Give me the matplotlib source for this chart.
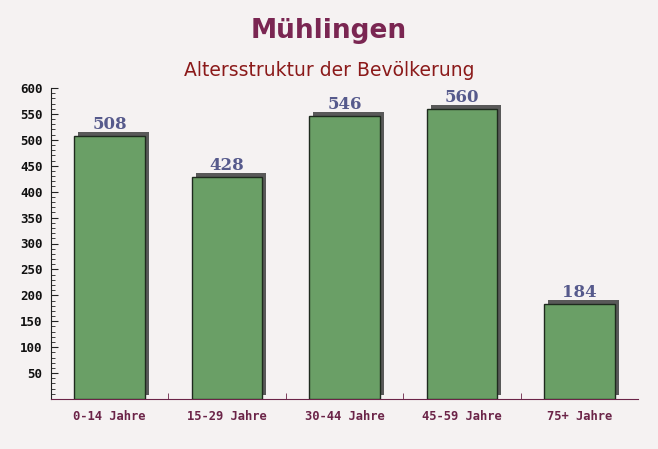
import matplotlib
matplotlib.use("Agg")
import matplotlib.pyplot as plt
import matplotlib.transforms as mtransforms
import numpy as np

categories = ["0-14 Jahre", "15-29 Jahre", "30-44 Jahre", "45-59 Jahre", "75+ Jahre"]
values = [508, 428, 546, 560, 184]
yticks = list(range(50, 601, 50))

bg = "#f5f2f2"
bar_color = "#6a9f66"
label_color = "#565a8c"

fig = plt.figure(figsize=(6.58, 4.49), dpi=100, facecolor=bg)
ax = fig.add_axes([51 / 658, 50 / 449, 587 / 658, 311 / 449])
ax.set_facecolor("none")

x = np.arange(len(categories))

# shadow, shifted a few pixels right and up
shadow = mtransforms.offset_copy(ax.transData, fig=fig, x=4, y=4, units="dots")
ax.bar(x, values, width=0.6, color="#595959", transform=shadow, zorder=2)
ax.bar(x, values, width=0.6, color=bar_color, edgecolor="#1e2a1e", linewidth=1.0, zorder=3)

for xi, v in zip(x, values):
    ax.annotate(str(v), (xi, v), xytext=(0, 2), textcoords="offset points",
                ha="center", va="bottom", fontsize=12, fontweight="bold",
                family="DejaVu Serif", color=label_color, zorder=4)

ax.set_xlim(-0.5, len(categories) - 0.5)
ax.set_ylim(0, 600)
ax.set_yticks(yticks)
ax.set_yticks(range(0, 601, 10), minor=True)
ax.set_xticks(x)
ax.set_xticklabels(categories)
ax.set_xticks(np.arange(0.5, len(categories) - 0.5, 1), minor=True)

ax.tick_params(axis="y", which="major", direction="in", length=5, color="#222222",
               labelsize=9, labelcolor="#111111", pad=6)
ax.tick_params(axis="y", which="minor", direction="in", length=3, color="#222222")
ax.tick_params(axis="x", which="major", length=0, labelsize=8.7, labelcolor="#6b2448", pad=8)
ax.tick_params(axis="x", which="minor", direction="in", length=4, color="#6b2448")
for lab in ax.get_xticklabels() + ax.get_yticklabels():
    lab.set_family("DejaVu Sans Mono")
    lab.set_fontweight("bold")

for side in ["top", "right"]:
    ax.spines[side].set_visible(False)
ax.spines["left"].set_color("#222222")
ax.spines["bottom"].set_color("#6b2448")

fig.text(0.5, 1 - 31 / 449, "Mühlingen", ha="center", va="center",
         fontsize=19, fontweight="bold", color="#7a2652")
fig.text(0.5, 1 - 70 / 449, "Altersstruktur der Bevölkerung", ha="center", va="center",
         fontsize=13.5, color="#8b1a1a")

fig.savefig("out.png", dpi=100, facecolor=bg)
